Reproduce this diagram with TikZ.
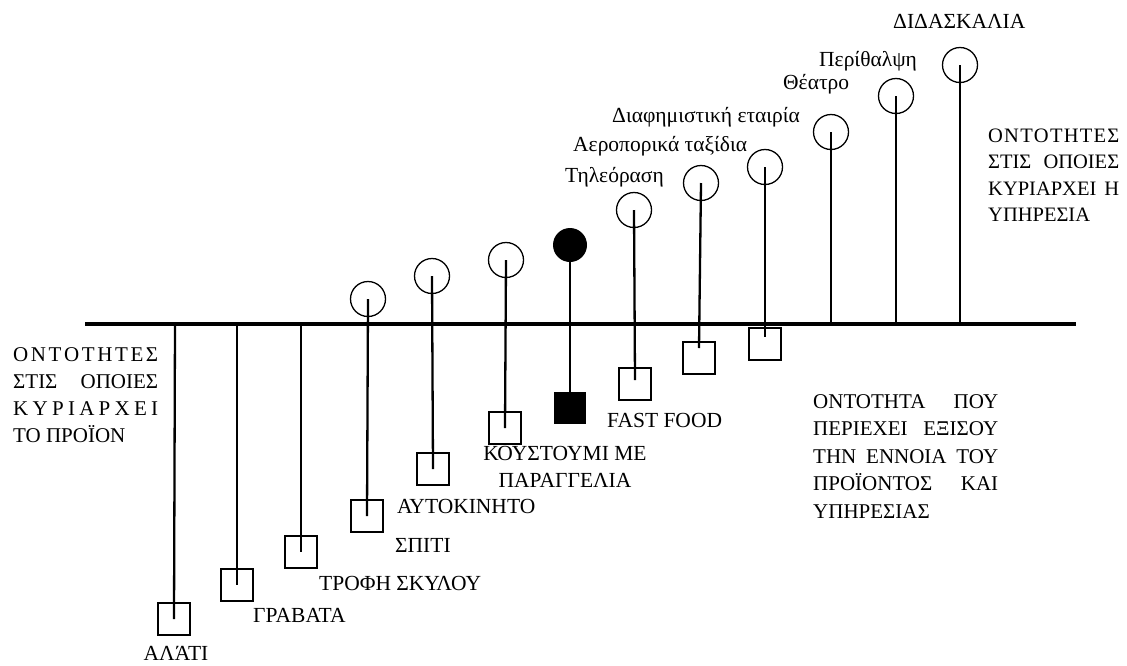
\documentclass[tikz,border=0pt]{standalone}
\usepackage{fontspec}
\setmainfont{Liberation Serif}

% spread the letters of one word over a given width
\newcommand\lspread[2]{\makebox[#1][s]{\lsfirst#2\relax}}
\def\lsfirst#1{#1\lsnext}
\def\lsnext#1{\ifx#1\relax\else\hfill#1\expandafter\lsnext\fi}

\tikzset{
  axisline/.style={line width=3.6pt},
  stem/.style={line width=2.3pt},
  opendot/.style={circle, draw, line width=1.3pt, minimum size=35pt, inner sep=0pt},
  fulldot/.style={circle, fill=black, minimum size=34pt, inner sep=0pt},
  openbox/.style={rectangle, draw, line width=1.2pt, minimum size=32pt, inner sep=0pt},
  fullbox/.style={rectangle, fill=black, minimum size=32pt, inner sep=0pt},
  lbl/.style={inner sep=0pt, anchor=base west, font=\fontsize{21.5}{27.5}\selectfont},
  slbl/.style={inner sep=0pt, anchor=base west, font=\fontsize{21.5}{27}\selectfont},
  block/.style={inner sep=0pt, anchor=base west, font=\fontsize{21}{27.3}\selectfont},
}

\begin{document}
\begin{tikzpicture}[x=1pt,y=-1pt]
\useasboundingbox (0,0) rectangle (1127,665);

% the dividing axis
\coordinate (axL) at (85,324);
\coordinate (axR) at (1076,324);
\draw[axisline] (axL) -- (axR);

% points where stems meet the axis
\coordinate (a1) at (175,324);
\coordinate (a2) at (237,324);
\coordinate (a3) at (301,324);
\coordinate (a11) at (831,324);
\coordinate (a12) at (896,324);
\coordinate (a13) at (960,324);

% service ends (circles)
\node[opendot] (c4) at (368,299) {};
\node[opendot] (c5) at (432,276) {};
\node[opendot] (c6) at (506,260) {};
\node[fulldot] (c7) at (570,245) {};
\node[opendot] (c8) at (634,210) {};
\node[opendot] (c9) at (701,183) {};
\node[opendot] (c10) at (765,167) {};
\node[opendot] (c11) at (831,132) {};
\node[opendot] (c12) at (896,96) {};
\node[opendot] (c13) at (960,65) {};

% product ends (squares)
\node[openbox] (b1) at (174,619) {};
\node[openbox] (b2) at (237,585) {};
\node[openbox] (b3) at (301,552) {};
\node[openbox] (b4) at (367,516) {};
\node[openbox] (b5) at (433,469) {};
\node[openbox] (b6) at (505,428) {};
\node[fullbox] (b7) at (570,408) {};
\node[openbox] (b8) at (635,384) {};
\node[openbox] (b9) at (699,358) {};
\node[openbox] (b10) at (765,344) {};

% stems
\draw[stem] (a1) -- (b1.center);
\draw[stem] (a2) -- (b2.center);
\draw[stem] (a3) -- (b3.center);
\draw[stem] (c4.center) -- (b4.center);
\draw[stem] (c5.center) -- (b5.center);
\draw[stem] (c6.center) -- (b6.center);
\draw[stem] (c7.center) -- (b7.center);
\draw[stem] (c8.center) -- ([yshift=4pt]b8.center);
\draw[stem] (c9.center) -- ([yshift=10pt]b9.center);
\draw[stem] (c10.center) -- ([yshift=7pt]b10.center);
\draw[stem] (c11.center) -- (a11);
\draw[stem] (c12.center) -- (a12);
\draw[stem] (c13.center) -- (a13);

% product labels
\node[lbl, anchor=base] (t1) at (176,660) {ΑΛΆΤΙ};
\node[lbl] (t2) at (253,622) {ΓΡΑΒΑΤΑ};
\node[lbl] (t3) at (319,590) {ΤΡΟΦΗ ΣΚΥΛΟΥ};
\node[lbl] (t4) at (395,552) {ΣΠΙΤΙ};
\node[lbl] (t5) at (397,513) {ΑΥΤΟΚΙΝΗΤΟ};
\node[lbl, anchor=base] (t6) at (565,460)
  {\parbox[t]{220pt}{\centering ΚΟΥΣΤΟΥΜΙ ΜΕ\\ΠΑΡΑΓΓΕΛΙΑ}};
\node[lbl] (t7) at (607,427) {FAST FOOD};

% service labels
\node[slbl] (s8) at (565,182) {Τηλεόραση};
\node[slbl] (s9) at (573,151) {Αεροπορικά ταξίδια};
\node[slbl] (s10) at (612,122) {Διαφημιστική εταιρία};
\node[slbl] (s11) at (783,89) {Θέατρο};
\node[slbl] (s12) at (819,66) {Περίθαλψη};
\node[lbl] (s13) at (893,28) {ΔΙΔΑΣΚΑΛΙΑ};

% explanatory blocks
\node[block] (prod) at (13,361) {\parbox[t]{145pt}{%
  \lspread{145pt}{ΟΝΤΟΤΗΤΕΣ}\\
  \makebox[145pt][s]{ΣΤΙΣ ΟΠΟΙΕΣ}\\
  \lspread{145pt}{ΚΥΡΙΑΡΧΕΙ}\\
  ΤΟ ΠΡΟΪΟΝ}};

\node[block, font=\fontsize{20.5}{26.5}\selectfont] (serv) at (988,142) {\parbox[t]{131pt}{%
  \lspread{131pt}{ΟΝΤΟΤΗΤΕΣ}\\
  \makebox[131pt][s]{ΣΤΙΣ ΟΠΟΙΕΣ}\\
  \makebox[131pt][s]{ΚΥΡΙΑΡΧΕΙ Η}\\
  ΥΠΗΡΕΣΙΑ}};

\node[block, font=\fontsize{21}{27.5}\selectfont] (both) at (813,408) {\parbox[t]{185pt}{%
  \makebox[185pt][s]{ΟΝΤΟΤΗΤΑ ΠΟΥ}\\
  \makebox[185pt][s]{ΠΕΡΙΕΧΕΙ ΕΞΙΣΟΥ}\\
  \makebox[185pt][s]{ΤΗΝ ΕΝΝΟΙΑ ΤΟΥ}\\
  \makebox[185pt][s]{ΠΡΟΪΟΝΤΟΣ ΚΑΙ}\\
  ΥΠΗΡΕΣΙΑΣ}};
\end{tikzpicture}
\end{document}
